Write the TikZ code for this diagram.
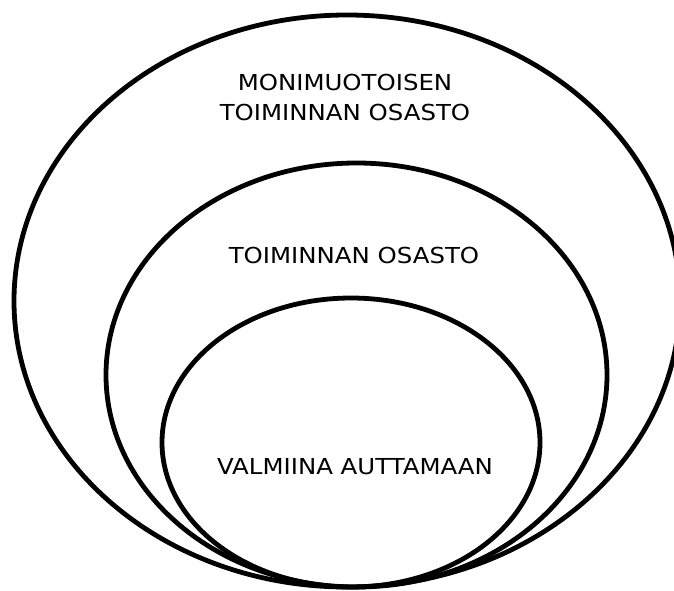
\documentclass[tikz,border=0pt]{standalone}
\usepackage{fontspec}
\setmainfont{DejaVu Sans}[FakeStretch=1.11]
\tikzset{
  ring/.style={draw=black, line width=4.8pt},
  label/.style={font=\fontsize{22}{30}\selectfont, align=center, inner sep=0pt}
}
\begin{document}
\begin{tikzpicture}[x=1pt,y=-1pt]
\useasboundingbox (0,0) rectangle (674,590);
\fill[white] (0,0) rectangle (674,590);
\clip (0,0) rectangle (674,590);
\draw[ring] (347,301) ellipse [x radius=333, y radius=286];
\draw[ring] (356.5,375) ellipse [x radius=250.5, y radius=212];
\draw[ring] (351,442.5) ellipse [x radius=189, y radius=144.5];
\node[label] (outer) at (345,97) {MONIMUOTOISEN\\TOIMINNAN OSASTO};
\node[label] (middle) at (354,255) {TOIMINNAN OSASTO};
\node[label] (inner) at (355,467) {VALMIINA AUTTAMAAN};
\end{tikzpicture}
\end{document}
